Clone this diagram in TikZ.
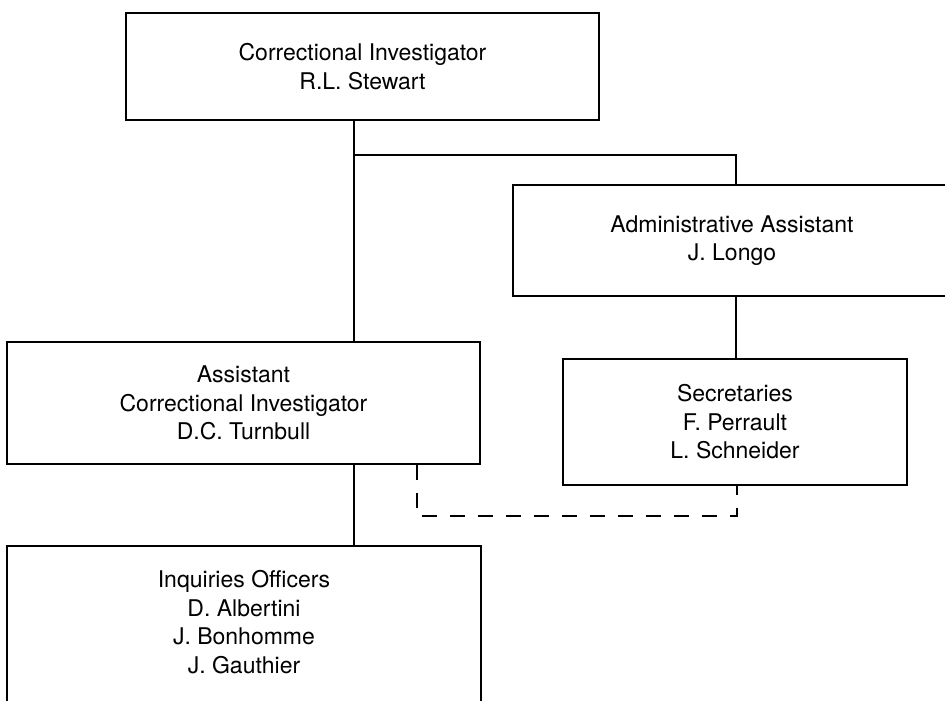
\documentclass[tikz,border=0pt]{standalone}
\usepackage{fontspec}
\setmainfont{TeX Gyre Heros}
\begin{document}
\begin{tikzpicture}[x=1pt,y=-1pt,
  box/.style={draw, line width=1.6pt, rectangle, inner sep=0pt, align=center,
    font=\fontsize{23}{28.5}\selectfont},
  openbox/.style={box, draw=none},
  link/.style={line width=1.5pt},
  dlink/.style={line width=1.5pt, dash pattern=on 15pt off 13pt}]
\useasboundingbox (0,0) rectangle (945,701);
\clip (0,0) rectangle (945,701);
% nodes
\node[box, minimum width=473pt, minimum height=107pt] (top) at (362.5,66.5)
  {Correctional Investigator\\R.L. Stewart};
\node[box, minimum width=438pt, minimum height=111pt] (admin) at (732,240.5)
  {Administrative Assistant\\J. Longo};
\node[box, minimum width=344pt, minimum height=126pt] (sec) at (735,422)
  {Secretaries\\F. Perrault\\L. Schneider};
\node[box, minimum width=473pt, minimum height=122pt] (asst) at (243.5,403)
  {Assistant\\Correctional Investigator\\D.C. Turnbull};
\node[openbox, minimum width=472pt, minimum height=150.5pt] (inq) at (244,622.25)
  {Inquiries Officers\\D. Albertini\\J. Bonhomme\\J. Gauthier};
\draw[line width=1.6pt] (inq.south west |- 0,710) -- (inq.north west)
  -- (inq.north east) -- (inq.south east |- 0,710);
% connector guide coordinates
\coordinate (spine) at (354,155);
\coordinate (rspine) at (736,155);
\coordinate (dcorner) at (417,516);
\coordinate (dend) at (737,516);
% connectors
\draw[link] (top.south -| spine) -- (asst.north -| spine);
\draw[link] (spine) -- (rspine) -- (admin.north -| rspine);
\draw[link] (admin.south -| rspine) -- (sec.north -| rspine);
\draw[link] (asst.south -| spine) -- (inq.north -| spine);
\draw[dlink] (asst.south -| dcorner) -- (dcorner) -- (dend) -- (sec.south -| dend);
\end{tikzpicture}
\end{document}
